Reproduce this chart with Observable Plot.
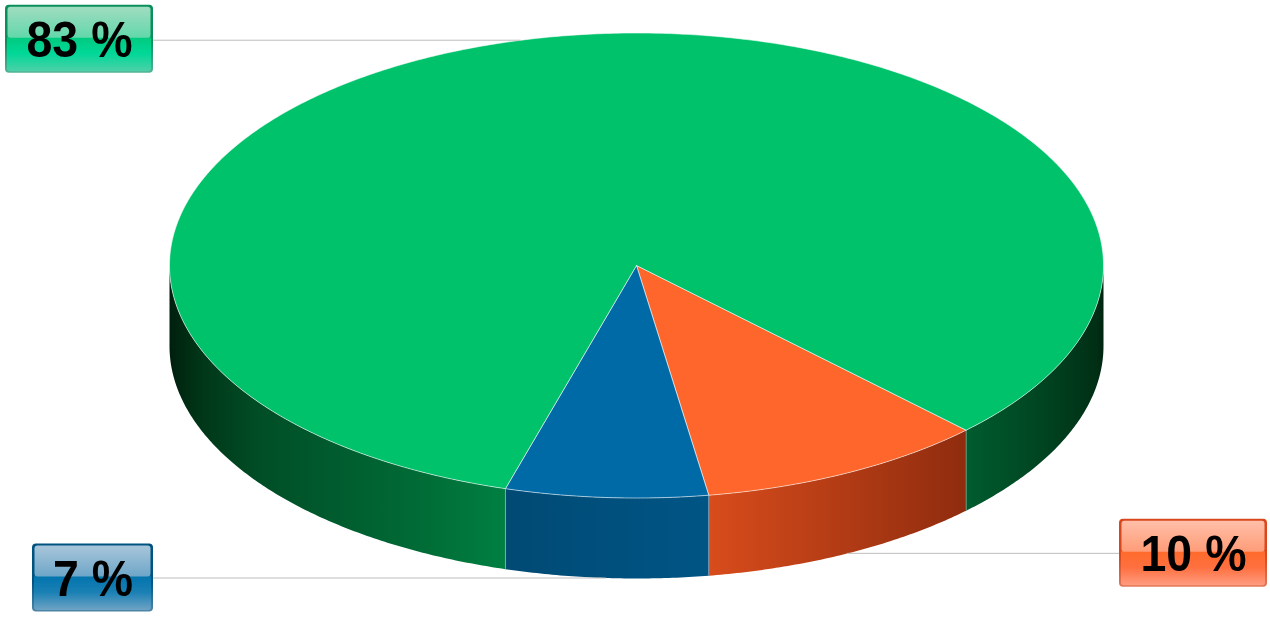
<!DOCTYPE html>
<html>
<head>
<meta charset="utf-8">
<script src="https://cdn.jsdelivr.net/npm/d3@7"></script>
<script src="https://cdn.jsdelivr.net/npm/@observablehq/plot@0.6"></script>
<style>
html,body{margin:0;padding:0;background:#fff;overflow:hidden}
svg{display:block}
</style>
</head>
<body>
<div id="chart"></div>
<script>
// Data: clockwise from the orange slice
const labels = ["10 %", "7 %", "83 %"];
const shares = [10, 7, 83];
const topColors = ["#ff662b", "#006aa7", "#00c26b"];

// Layout of the tilted pie
const cx = 636, cy = 265, rx = 467, ry = 232.5, depth = 80.5, startDeg = 135.1;
const boxLeft = [1119, 32, 5];
const boxRight = [1267, 153, 153];
const boxHalf = 34;
const boxNudge = [0, 0, -1];
const textWidths = [106, 80, 106];

// Palette of label boxes and of the side wall
const borderTop = ["#d9481c", "#00527f", "#0a8f5c"];
const borderBottom = ["#e0795a", "#4f86a8", "#55b396"];
const glossTop = ["#ffbfa8", "#a8c6da", "#a0dcc0"];
const glossBottom = ["#ff9c78", "#6ea6c8", "#62d8aa"];
const lowTop = ["#ff6a28", "#0073ad", "#00c87c"];
const lowMid = ["#ff7040", "#1a80b4", "#00d898"];
const lowBottom = ["#ff9c80", "#6ea3c4", "#4cd0a8"];
const wallStops = {
  wall0: [[0, "#d84c1c"], [1, "#8f2c0e"]],
  wall1: [[0, "#004a74"], [1, "#005585"]],
  wallL: [[0, "#001f0d"], [0.09, "#003618"], [0.27, "#004e26"], [0.5, "#005c2e"], [0.77, "#006d37"], [1, "#008042"]],
  wallR: [[0, "#005c2e"], [0.6, "#004220"], [0.95, "#002f15"], [1, "#002410"]]
};

// Slices from the shares
const total = d3.sum(shares);
const slices = [];
let acc = startDeg;
shares.forEach((s, i) => { const a0 = acc; acc += s / total * 360; slices.push({i, a0, a1: acc, mid: (a0 + acc) / 2}); });

const px = a => cx + rx * Math.sin(a * Math.PI / 180);
const py = (a, d = 0) => cy - ry * Math.cos(a * Math.PI / 180) + d;
const arc = (a0, a1, d = 0) => {
  const n = Math.max(2, Math.ceil(Math.abs(a1 - a0) * 2));
  return d3.range(n + 1).map(k => { const a = a0 + (a1 - a0) * k / n; return {x: px(a), y: py(a, d)}; });
};
const wedge = s => { const c = {x: cx, y: cy}; return [c, ...arc(s.a0, s.a1), c]; };
const wall = (a0, a1) => { const t = arc(a0, a1), b = arc(a1, a0, depth); return [...t, ...b, t[0]]; };

const vgrad = (defs, id, stops) => {
  const g = defs.append("linearGradient").attr("id", id).attr("x1", 0).attr("y1", 0).attr("x2", 0).attr("y2", 1);
  stops.forEach(([o, c]) => g.append("stop").attr("offset", o).attr("stop-color", c));
};
const defsMark = () => {
  const defs = d3.create("svg:defs");
  Object.entries(wallStops).forEach(([id, stops]) => {
    const g = defs.append("linearGradient").attr("id", id).attr("x1", 0).attr("y1", 0).attr("x2", 1).attr("y2", 0);
    stops.forEach(([o, c]) => g.append("stop").attr("offset", o).attr("stop-color", c));
  });
  labels.forEach((_, i) => {
    vgrad(defs, "border" + i, [[0, borderTop[i]], [0.55, borderTop[i]], [1, borderBottom[i]]]);
    vgrad(defs, "gloss" + i, [[0, glossTop[i]], [1, glossBottom[i]]]);
    vgrad(defs, "low" + i, [[0, lowTop[i]], [0.5, lowMid[i]], [1, lowBottom[i]]]);
  });
  return defs.node();
};

const leaders = slices.map(s => {
  const low = Math.cos(s.mid * Math.PI / 180) < 0;
  const y = py(s.mid, low && s.i !== 2 ? depth : 0);
  return {x1: px(s.mid), x2: s.i === 0 ? boxLeft[s.i] : boxRight[s.i], y};
});
const boxes = leaders.map((l, i) => ({
  i, label: labels[i], left: boxLeft[i], right: boxRight[i], mid: (boxLeft[i] + boxRight[i]) / 2, y: l.y + boxNudge[i]
}));

const marks = [defsMark];
// walls
const [so, sb, sg] = slices;
marks.push(Plot.line(wall(so.a0, so.a1), {x: "x", y: "y", fill: "url(#wall0)", stroke: "none"}));
marks.push(Plot.line(wall(sb.a0, sb.a1), {x: "x", y: "y", fill: "url(#wall1)", stroke: "none"}));
marks.push(Plot.line(wall(sg.a0, 270), {x: "x", y: "y", fill: "url(#wallL)", stroke: "none"}));
marks.push(Plot.line(wall(90, so.a0), {x: "x", y: "y", fill: "url(#wallR)", stroke: "none"}));
// wall seams
marks.push(Plot.ruleX(slices, {
  x: s => px(s.a0), y1: s => py(s.a0), y2: s => py(s.a0, depth),
  stroke: "#ffffff", strokeOpacity: 0.3, strokeWidth: 1
}));
// top
slices.forEach(s => marks.push(Plot.line(wedge(s), {
  x: "x", y: "y", fill: topColors[s.i], stroke: "#ffffff", strokeWidth: 0.7, strokeOpacity: 0.8
})));
// leaders
marks.push(Plot.ruleY(leaders, {y: "y", x1: "x1", x2: "x2", stroke: "#bdbdbd", strokeWidth: 1}));
// label boxes
boxes.forEach(b => {
  marks.push(Plot.rect([b], {
    x1: "left", x2: "right", y1: d => d.y - boxHalf, y2: d => d.y + boxHalf,
    fill: `url(#border${b.i})`, r: 4
  }));
  marks.push(Plot.rect([b], {
    x1: d => d.left + 2, x2: d => d.right - 2, y1: d => d.y - 3, y2: d => d.y + boxHalf - 1.5,
    fill: `url(#low${b.i})`, r: 3
  }));
  marks.push(Plot.rect([b], {
    x1: d => d.left + 2.5, x2: d => d.right - 2.5, y1: d => d.y - boxHalf + 2, y2: d => d.y - 1,
    fill: `url(#gloss${b.i})`, r: 3
  }));
});
marks.push(Plot.text(boxes, {
  x: "mid", y: "y", text: "label", fontSize: 50, fontWeight: "bold",
  fontFamily: "Liberation Sans, Arial, sans-serif", fill: "#000", dy: 1.5, textAnchor: "middle", lineAnchor: "middle"
}));

const chart = Plot.plot({
  width: 1270, height: 619, margin: 0,
  x: {domain: [0, 1270], range: [0, 1270], axis: null},
  y: {domain: [0, 619], range: [0, 619], axis: null},
  style: {background: "#fff"},
  marks
});
// condense the label text to the reference's narrower set width
chart.querySelectorAll("text").forEach(t => {
  const i = labels.indexOf(t.textContent);
  if (i >= 0) { t.setAttribute("textLength", textWidths[i]); t.setAttribute("lengthAdjust", "spacingAndGlyphs"); }
});
document.getElementById("chart").append(chart);
</script>
</body>
</html>
